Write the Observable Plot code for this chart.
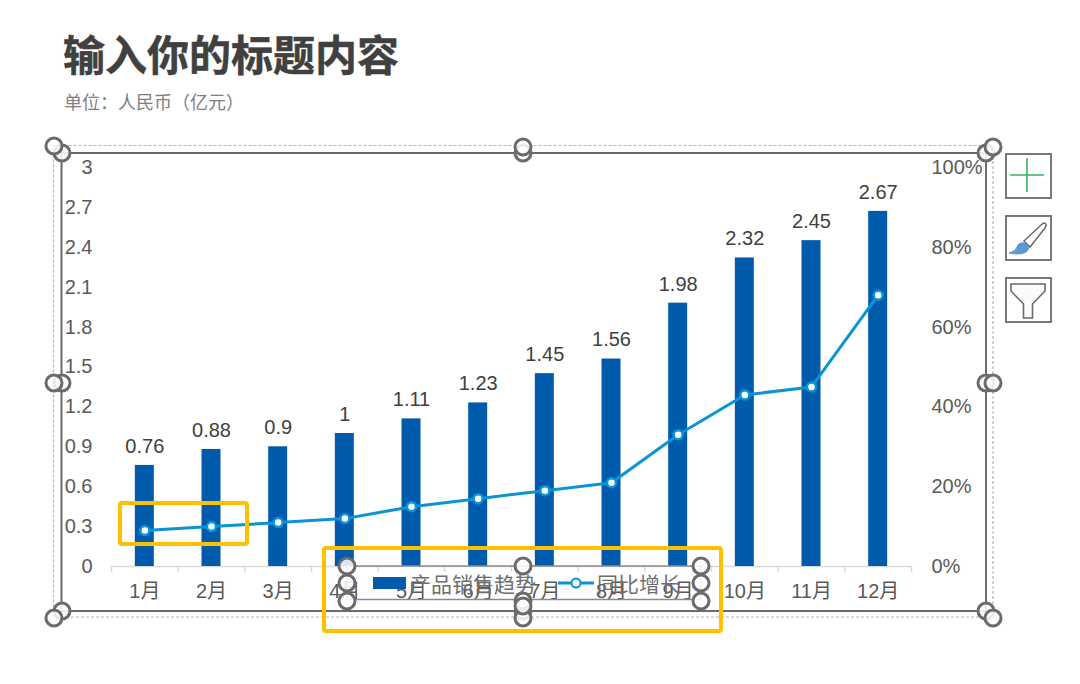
<!DOCTYPE html>
<html lang="zh">
<head>
<meta charset="utf-8">
<script src="https://cdn.jsdelivr.net/npm/d3@7"></script>
<script src="https://cdn.jsdelivr.net/npm/@observablehq/plot@0.6"></script>
<style>
  html,body{margin:0;padding:0;background:#fff;width:1080px;height:684px;overflow:hidden}
  body{position:relative;font-family:"Liberation Sans","Noto Sans CJK SC",sans-serif}
  #head{height:130px;position:relative}
  #title{position:absolute;left:63px;top:23px;font:700 42px/60px "Noto Sans CJK SC",sans-serif;color:#404040;white-space:nowrap;-webkit-text-stroke:.5px #404040}
  #subtitle{position:absolute;left:64px;top:87px;font:400 18px/28px "Noto Sans CJK SC",sans-serif;color:#7f7f7f;white-space:nowrap}
  #chart{display:block;height:510px}
  #chart svg{display:block;background:transparent}
  #chrome{position:absolute;left:0;top:0;pointer-events:none}
  .legend{position:absolute;top:569px;font:400 21px/28px "Noto Sans CJK SC",sans-serif;color:#6e6e6e;white-space:nowrap}
</style>
</head>
<body>
<div id="head">
  <div id="title">输入你的标题内容</div>
  <div id="subtitle">单位&#xFF1A;人民币&#xFF08;亿元&#xFF09;</div>
</div>
<div id="chart"></div>
<script>
const months = ["1月","2月","3月","4月","5月","6月","7月","8月","9月","10月","11月","12月"];
const salesValues = [0.76,0.88,0.9,1,1.11,1.23,1.45,1.56,1.98,2.32,2.45,2.67];
const growthValues = [0.09,0.10,0.11,0.12,0.15,0.17,0.19,0.21,0.33,0.43,0.45,0.68];
const leftTicks = [0,0.3,0.6,0.9,1.2,1.5,1.8,2.1,2.4,2.7,3];
const rightTicks = [0,0.2,0.4,0.6,0.8,1];
const legendNames = ["产品销售趋势","同比增长"];

const BAR = "#005bac", LINE = "#0a94d6", INK = "#595959";
const FONT = '"Liberation Sans","Noto Sans CJK SC",sans-serif';
const rows = months.map((m,i)=>({month:m,sales:salesValues[i],growth:growthValues[i],scaled:growthValues[i]*3}));
const step = 800/12;

const plot = Plot.plot({
  width:1080, height:510,
  marginLeft:111, marginRight:169, marginTop:37, marginBottom:74,
  style:{fontFamily:FONT,background:"transparent",overflow:"visible"},
  x:{domain:months,paddingInner:0.715,paddingOuter:0.3575,round:false},
  y:{domain:[0,3],range:[436,37]},
  marks:[
    Plot.ruleY([0],{stroke:"#d9d9d9",strokeWidth:1.5}),
    Plot.ruleX(months,{x:d=>d,y1:0,y2:-0.045,stroke:"#d9d9d9",strokeWidth:1.5,dx:-step/2}),
    Plot.ruleX(months.slice(-1),{x:d=>d,y1:0,y2:-0.045,stroke:"#d9d9d9",strokeWidth:1.5,dx:step/2}),
    Plot.barY(rows,{x:"month",y:"sales",fill:BAR}),
    Plot.line(rows,{x:"month",y:"scaled",stroke:LINE,strokeWidth:3,curve:"linear"}),
    Plot.dot(rows,{x:"month",y:"scaled",r:4.5,fill:"#fff",stroke:LINE,strokeWidth:2.5}),
    Plot.text(rows,{x:"month",y:"sales",text:d=>String(d.sales),dy:-19,fontSize:20,fill:"#404040",fontFamily:FONT}),
    Plot.axisY({anchor:"left",ticks:leftTicks,tickFormat:d=>String(d),tickSize:0,tickPadding:19,label:null,fontSize:20,color:INK,fontFamily:FONT}),
    Plot.axisY({anchor:"right",ticks:rightTicks.map(p=>p*3),tickFormat:d=>Math.round(d/3*100)+"%",tickSize:0,tickPadding:20,label:null,fontSize:20,color:INK,fontFamily:FONT}),
    Plot.axisX({anchor:"bottom",tickSize:0,tickPadding:17,label:null,fontSize:20,color:INK,fontFamily:FONT})
  ]
});
document.getElementById("chart").appendChild(plot);

/* Editor chrome and legend drawn over the chart (screenshot UI, not data) */
const ns = d3.select("body").append("svg").attr("id","chrome").attr("width",1080).attr("height",684);
const grey="#6b6b6b";
ns.append("rect").attr("x",53.5).attr("y",145.5).attr("width",939.5).attr("height",471.5)
  .attr("fill","none").attr("stroke","#b5b5b5").attr("stroke-width",1.2).attr("stroke-dasharray","3 2");
ns.append("rect").attr("x",61.5).attr("y",153).attr("width",924.5).attr("height",458)
  .attr("fill","none").attr("stroke",grey).attr("stroke-width",2);
ns.append("rect").attr("x",347).attr("y",566).attr("width",354).attr("height",33.5)
  .attr("fill","none").attr("stroke","#8a8a8a").attr("stroke-width",1.5);

ns.append("rect").attr("x",373).attr("y",577).attr("width",33).attr("height",12).attr("fill",BAR);
ns.append("line").attr("x1",558).attr("x2",594).attr("y1",583).attr("y2",583).attr("stroke",LINE).attr("stroke-width",3);
ns.append("circle").attr("cx",576).attr("cy",583).attr("r",4.5).attr("fill","#fff").attr("stroke",LINE).attr("stroke-width",2);

const boxes=[[120,503,127,41],[324,548,397,83]];
boxes.forEach(b=>ns.append("rect").attr("x",b[0]).attr("y",b[1]).attr("width",b[2]).attr("height",b[3]).attr("rx",2)
  .attr("fill","none").attr("stroke","#ffc000").attr("stroke-width",4));

const handles=[[62,153],[54,146],[523,153],[523,147],[986,153],[993,147],[62,383],[54,383],[986,383],[993,383],
  [62,611],[54,618],[523,611],[523,618],[986,611],[993,618],
  [347,566],[347,583],[347,601],[523,566],[523,601],[523,606],[701,566],[701,583],[701,601]];
handles.forEach(h=>ns.append("circle").attr("cx",h[0]).attr("cy",h[1]).attr("r",8)
  .attr("fill","#fff").attr("fill-opacity",.85).attr("stroke",grey).attr("stroke-width",3));

[154,216,278].forEach(y=>ns.append("rect").attr("x",1006).attr("y",y).attr("width",45).attr("height",44)
  .attr("fill","#fff").attr("stroke",grey).attr("stroke-width",1.8));
ns.append("path").attr("d","M1010 175H1044M1027 158V192").attr("stroke","#3cb35a").attr("stroke-width",1.6).attr("fill","none");
ns.append("path").attr("d","M1024 241L1041 225Q1044 222 1045.5 223.5Q1047 225 1045 228L1030 247Z")
  .attr("fill","#fff").attr("stroke",grey).attr("stroke-width",1.5);
ns.append("path").attr("d","M1024 243Q1030 245 1028 250Q1024 256 1009 253Q1016 251 1017 247Q1019 242 1024 243Z")
  .attr("fill","#5b9bd5").attr("stroke","#4a8ac4").attr("stroke-width",.8);
ns.append("path").attr("d","M1011 284H1045V291L1032.5 304V318H1023.5V304L1011 291Z")
  .attr("fill","#fafafa").attr("stroke",grey).attr("stroke-width",1.6);

const add=(t,x)=>{const d=document.createElement("div");d.className="legend";d.style.left=x+"px";d.textContent=t;document.body.appendChild(d);};
add(legendNames[0],410); add(legendNames[1],597);
</script>
</body>
</html>
